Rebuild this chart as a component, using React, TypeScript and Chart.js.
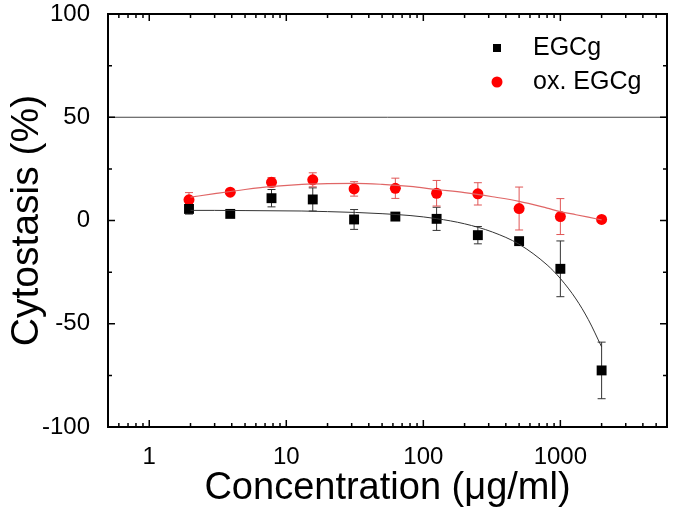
import React, { useEffect, useRef } from "react";
import { Chart, registerables } from "chart.js";
Chart.register(...registerables);

const FONT = "'Liberation Sans', Arial, sans-serif";

// Concentrations (µg/ml)
const concentrations = [1.95, 3.9, 7.8, 15.6, 31.25, 62.5, 125, 250, 500, 1000, 2000];
// EGCg cytostasis (%) and error
const egcgValues = [5.6, 3.2, 10.8, 10.2, 0.5, 1.9, 0.8, -7.1, -10.0, -23.4, -72.6];
const egcgErrors = [2.5, 1, 4.2, 5.6, 4.8, 1.5, 5.6, 4.2, 1.5, 13.5, 13.7];
// ox. EGCg cytostasis (%) and error
const oxValues = [10.0, 13.7, 18.5, 19.7, 15.3, 15.6, 13.2, 12.9, 5.8, 1.9, 0.5];
const oxErrors = [3.5, 1, 2.3, 3.4, 3.5, 4.9, 6.2, 5.4, 10.4, 8.7, 0];

// Fitted curves
const fitX = [2, 3, 5, 8, 13, 20, 32, 50, 80, 125, 200, 320, 500, 800, 1000, 1300, 1600, 2000];
const egcgFit = [4.9, 4.9, 4.8, 4.7, 4.6, 4.3, 3.9, 3.3, 2.4, 0.9, -1.6, -5.6, -11.5, -21.5, -28.1, -38.0, -48.0, -61.2];
const oxFit = [11.3, 13, 15, 16.5, 17.5, 17.9, 18, 17.5, 16.5, 15.0, 13.5, 11.5, 9.3, 6, 4.3, 2.8, 1.6, 0.3];

// Reference line
const refLineY = 50;

// Axes
const xMin = 0.5;
const xMax = 6000;
const xMajorTicks = [1, 10, 100, 1000];
const xMinorTicks = [0.6, 0.7, 0.8, 0.9, 2, 3, 4, 5, 6, 7, 8, 9, 20, 30, 40, 50, 60, 70, 80, 90, 200, 300, 400, 500, 600, 700, 800, 900, 2000, 3000, 4000, 5000];
const yMin = -100;
const yMax = 100;
const yMajorTicks = [-100, -50, 0, 50, 100];
const yMinorTicks = [-75, -25, 25, 75];

const seriesNames = ["EGCg", "ox. EGCg"];

const framePlugin = {
  id: "frame",
  afterDraw(chart: any) {
    const { ctx, chartArea: a, scales } = chart;
    const x = scales.x;
    const y = scales.y;
    ctx.save();
    ctx.strokeStyle = "#000";
    ctx.lineWidth = 1.5;
    ctx.beginPath();
    x.ticks.forEach((t: any) => {
      const px = x.getPixelForValue(t.value);
      const len = xMajorTicks.includes(t.value) ? 7 : 4;
      ctx.moveTo(px, a.bottom);
      ctx.lineTo(px, a.bottom - len);
      ctx.moveTo(px, a.top);
      ctx.lineTo(px, a.top + len);
    });
    y.ticks.forEach((t: any) => {
      const py = y.getPixelForValue(t.value);
      const len = yMajorTicks.includes(t.value) ? 7 : 4;
      ctx.moveTo(a.left, py);
      ctx.lineTo(a.left + len, py);
      ctx.moveTo(a.right, py);
      ctx.lineTo(a.right - len, py);
    });
    ctx.stroke();
    ctx.lineWidth = 2;
    ctx.strokeRect(a.left, a.top, a.right - a.left, a.bottom - a.top);
    ctx.restore();
  },
};

const errorBarPlugin = {
  id: "errorBars",
  beforeDatasetsDraw(chart: any) {
    const { ctx, scales } = chart;
    const x = scales.x;
    const y = scales.y;
    ctx.save();
    chart.data.datasets.forEach((ds: any) => {
      if (!ds.errors) return;
      ctx.strokeStyle = ds.errorColor;
      ctx.lineWidth = 1;
      ds.data.forEach((p: any, i: number) => {
        const e = ds.errors[i];
        if (!e) return;
        const px = x.getPixelForValue(p.x);
        const top = y.getPixelForValue(p.y + e);
        const bot = y.getPixelForValue(p.y - e);
        ctx.beginPath();
        ctx.moveTo(px, top);
        ctx.lineTo(px, bot);
        ctx.moveTo(px - 4, top);
        ctx.lineTo(px + 4, top);
        ctx.moveTo(px - 4, bot);
        ctx.lineTo(px + 4, bot);
        ctx.stroke();
      });
    });
    ctx.restore();
  },
};

const legendPlugin = {
  id: "customLegend",
  afterDraw(chart: any) {
    const { ctx } = chart;
    ctx.save();
    ctx.font = `25px ${FONT}`;
    ctx.textBaseline = "middle";
    ctx.fillStyle = "#000";
    // EGCg
    ctx.fillRect(497 - 4, 48 - 4, 8, 8);
    ctx.fillText(seriesNames[0], 533, 48);
    // ox. EGCg
    ctx.fillStyle = "#ff0000";
    ctx.beginPath();
    ctx.arc(497, 82, 5.5, 0, Math.PI * 2);
    ctx.fill();
    ctx.fillStyle = "#000";
    ctx.fillText(seriesNames[1], 533, 82);
    ctx.restore();
  },
};

export default function App() {
  const ref = useRef<HTMLCanvasElement | null>(null);
  useEffect(() => {
    if (!ref.current) return;
    const chart = new Chart(ref.current, {
      type: "scatter",
      data: {
        datasets: [
          {
            type: "line",
            data: [
              { x: xMin, y: refLineY },
              { x: xMax, y: refLineY },
            ],
            borderColor: "#444",
            borderWidth: 1,
            pointRadius: 0,
            showLine: true,
          } as any,
          {
            type: "line",
            data: fitX.map((v, i) => ({ x: v, y: egcgFit[i] })),
            borderColor: "#333",
            borderWidth: 1,
            pointRadius: 0,
            showLine: true,
            cubicInterpolationMode: "monotone",
          } as any,
          {
            type: "line",
            data: fitX.map((v, i) => ({ x: v, y: oxFit[i] })),
            borderColor: "#e06666",
            borderWidth: 1.2,
            pointRadius: 0,
            showLine: true,
            cubicInterpolationMode: "monotone",
          } as any,
          {
            label: seriesNames[0],
            data: concentrations.map((v, i) => ({ x: v, y: egcgValues[i] })),
            pointStyle: "rect",
            pointRadius: 7,
            backgroundColor: "#000",
            borderColor: "#000",
            borderWidth: 0,
            errors: egcgErrors,
            errorColor: "#333",
          } as any,
          {
            label: seriesNames[1],
            data: concentrations.map((v, i) => ({ x: v, y: oxValues[i] })),
            pointStyle: "circle",
            pointRadius: 5.5,
            backgroundColor: "#ff0000",
            borderColor: "#ff0000",
            borderWidth: 0,
            errors: oxErrors,
            errorColor: "#e05555",
          } as any,
        ],
      },
      options: {
        responsive: false,
        maintainAspectRatio: false,
        animation: false,
        layout: { padding: { top: 14, right: 8, left: 0, bottom: 0 } },
        plugins: { legend: { display: false }, tooltip: { enabled: false } },
        scales: {
          x: {
            type: "logarithmic",
            min: xMin,
            max: xMax,
            afterBuildTicks: (s: any) => {
              s.ticks = [...xMajorTicks, ...xMinorTicks].sort((a, b) => a - b).map((v) => ({ value: v }));
            },
            afterFit: (s: any) => {
              s.height = 87;
              s.paddingLeft = 0;
              s.paddingRight = 0;
            },
            grid: { display: false },
            border: { display: false },
            ticks: {
              autoSkip: false,
              maxRotation: 0,
              padding: 8,
              color: "#000",
              font: { family: FONT, size: 24 },
              callback: (v: any) => (xMajorTicks.includes(Number(v)) ? String(v) : ""),
            },
            title: {
              display: true,
              text: "Concentration (μg/ml)",
              color: "#000",
              font: { family: FONT, size: 38 },
              padding: { top: 0, bottom: 3 },
            },
          },
          y: {
            type: "linear",
            min: yMin,
            max: yMax,
            afterBuildTicks: (s: any) => {
              s.ticks = [...yMajorTicks, ...yMinorTicks].sort((a, b) => a - b).map((v) => ({ value: v }));
            },
            afterFit: (s: any) => {
              s.width = 108;
              s.paddingTop = 0;
              s.paddingBottom = 0;
            },
            grid: { display: false },
            border: { display: false },
            ticks: {
              autoSkip: false,
              padding: 10,
              color: "#000",
              font: { family: FONT, size: 24, lineHeight: 1 },
              callback: (v: any) => (yMajorTicks.includes(Number(v)) ? String(v) : ""),
            },
            title: {
              display: true,
              text: "Cytostasis (%)",
              color: "#000",
              font: { family: FONT, size: 39 },
              padding: { top: 4, bottom: 0 },
            },
          },
        },
      },
      plugins: [errorBarPlugin, framePlugin, legendPlugin],
    });
    return () => chart.destroy();
  }, []);
  return (
    <div style={{ position: "absolute", left: 0, top: 0, width: 675, height: 514, background: "#fff" }}>
      <canvas ref={ref} width={675} height={514} style={{ display: "block" }} />
    </div>
  );
}
